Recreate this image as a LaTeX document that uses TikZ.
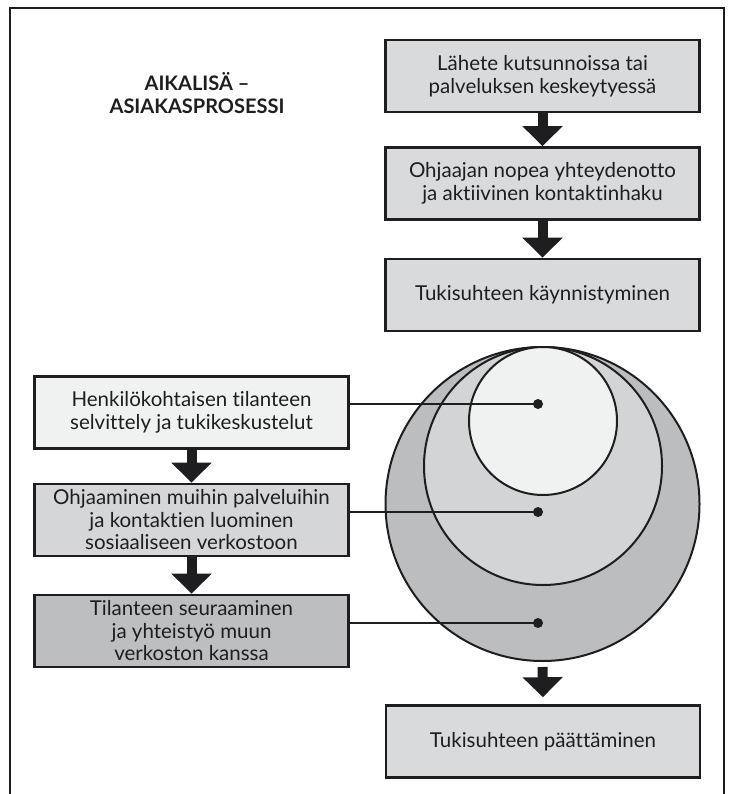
\documentclass[tikz,border=0pt]{standalone}
\usepackage{fontspec}
\setmainfont{Lato}[Ligatures={NoCommon,NoContextual}]
\usetikzlibrary{arrows.meta}

\definecolor{ink}{HTML}{1E1E20}
\definecolor{boxgray}{HTML}{D9DADC}
\definecolor{paleA}{HTML}{F0F1F1}
\definecolor{midB}{HTML}{D5D6D8}
\definecolor{darkC}{HTML}{BDBEC0}
\definecolor{ringOuter}{HTML}{BCBDBF}
\definecolor{ringMid}{HTML}{D3D4D6}
\definecolor{ringInner}{HTML}{F0F1F1}

\begin{document}
\begin{tikzpicture}[x=1pt,y=-1pt,
  stepbox/.style={draw=ink, line width=2.6pt, fill=boxgray,
    minimum width=314pt, minimum height=72pt, inner sep=0pt,
    align=center, text=ink, font=\fontsize{20.5}{22.5}\selectfont},
  flow/.style={draw=ink, line width=10pt,
    -{Triangle[width=39pt,length=20pt]}},
  ring/.style={circle, draw=ink, line width=2pt, inner sep=0pt},
  leader/.style={draw=ink, line width=2pt},
  dotmark/.style={fill=ink}]

\useasboundingbox (0,0) rectangle (729,794);

% outer frame, open at the bottom
\draw[ink, line width=2.5pt] (10,800) -- (10,8) -- (724,8) -- (724,800);

% title
\node[font=\bfseries\fontsize{20}{23}\selectfont, text=ink, align=center]
  (title) at (197,93) {AIKALISÄ –\\ASIAKASPROSESSI};

% starting steps on the right
\node[stepbox] (s1) at (542.5,76) {Lähete kutsunnoissa tai\\palveluksen keskeytyessä};
\node[stepbox] (s2) at (542.5,183.5) {Ohjaajan nopea yhteydenotto\\ja aktiivinen kontaktinhaku};
\node[stepbox] (s3) at (542.5,295) {Tukisuhteen käynnistyminen};

\draw[flow] (s1.south) -- (s2.north);
\draw[flow] (s2.south) -- (s3.north);

% nested support circles
\node[ring, fill=ringOuter, minimum size=314pt] (outer) at (542.5,504) {};
\node[ring, fill=ringMid, minimum size=238pt] (middle) at (543,466) {};
\node[ring, fill=ringInner, minimum size=148pt] (inner) at (543,421) {};

% working phases on the left
\node[stepbox, fill=paleA] (a) at (191.5,412.5)
  {Henkilökohtaisen tilanteen\\selvittely ja tukikeskustelut};
\node[stepbox, fill=midB] (b) at (191.5,520)
  {Ohjaaminen muihin palveluihin\\ja kontaktien luominen\\sosiaaliseen verkostoon};
\node[stepbox, fill=darkC] (c) at (191.5,631)
  {Tilanteen seuraaminen\\ja yhteistyö muun\\verkoston kanssa};

\draw[flow] (a.south) -- (b.north);
\draw[flow] (b.south) -- (c.north);

% leaders into the circles
\coordinate (d1) at (538,404);
\coordinate (d2) at (538,512);
\coordinate (d3) at (538,623);
\draw[leader] (d1 -| a.east) -- (d1);
\draw[leader] (d2 -| b.east) -- (d2);
\draw[leader] (d3 -| c.east) -- (d3);
\fill[dotmark] (d1) circle (5pt);
\fill[dotmark] (d2) circle (5pt);
\fill[dotmark] (d3) circle (5pt);

% closing step
\node[stepbox] (end) at (543,741.5) {Tukisuhteen päättäminen};
\draw[flow, shorten <=5pt, shorten >=7pt] (outer.south) -- (end.north);

\end{tikzpicture}
\end{document}
